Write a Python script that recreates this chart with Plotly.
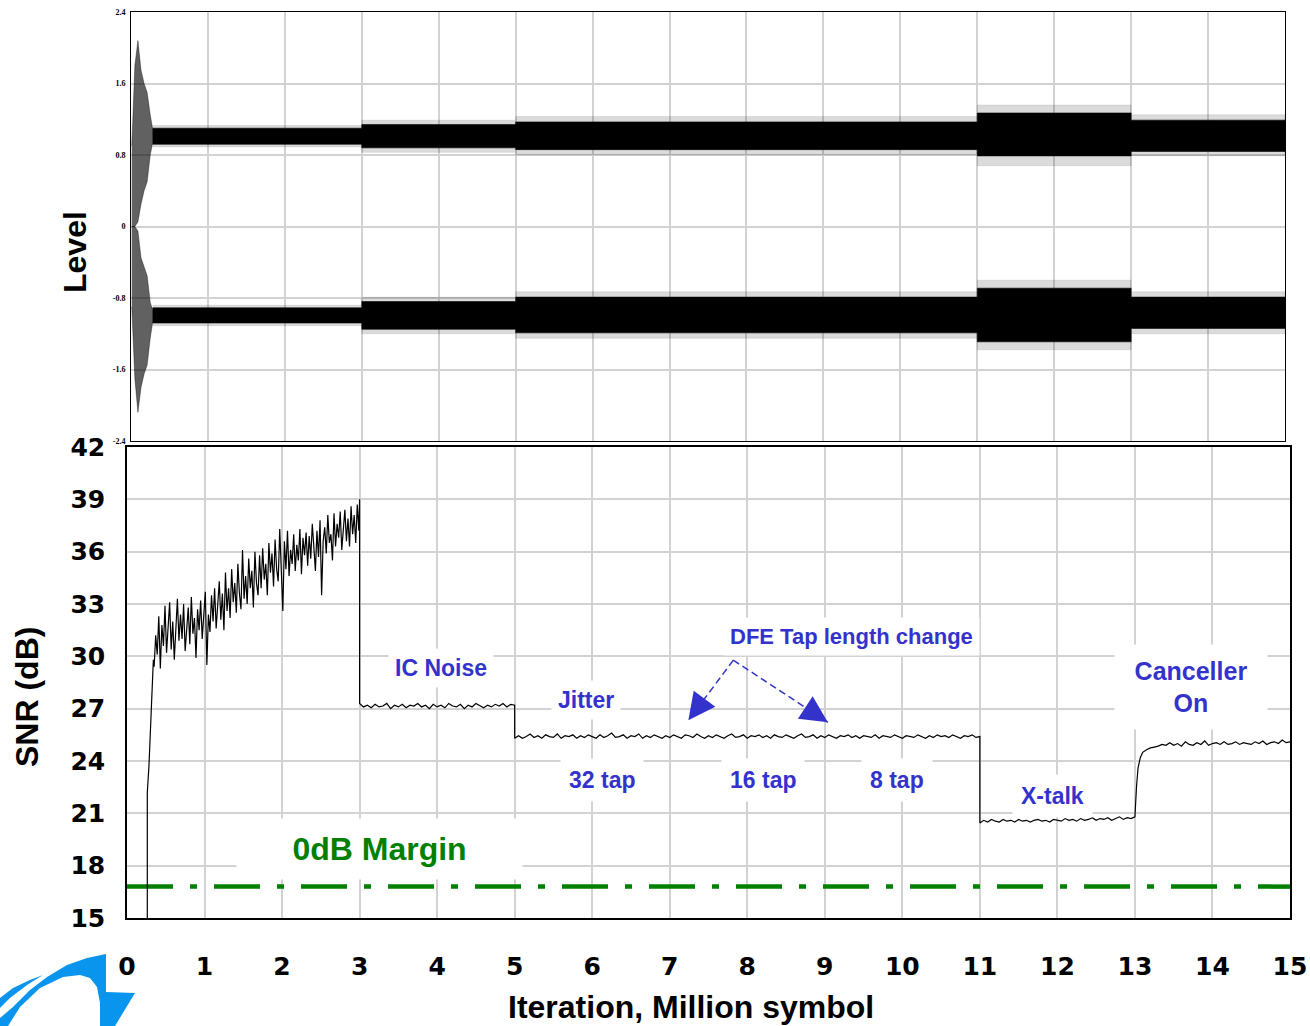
import plotly.graph_objects as go

W, H = 1310, 1026

# ---------------- DATA ----------------
# Top panel (Level): envelopes of the two decision-level clusters
burst_x = [0.01, 0.05, 0.09, 0.13, 0.17, 0.21, 0.25, 0.28]
burst_up_hi = [0.9, 1.8, 2.08, 1.75, 1.6, 1.5, 1.25, 1.1]
burst_up_lo = [0.0, 0.0, 0.05, 0.25, 0.4, 0.5, 0.8, 0.93]
burst_dn_hi = [0.0, 0.0, -0.05, -0.35, -0.45, -0.55, -0.85, -0.93]
burst_dn_lo = [-0.9, -1.7, -2.08, -1.8, -1.65, -1.55, -1.25, -1.08]

band_x = [0.28, 3.0, 3.0, 5.0, 5.0, 11.0, 11.0, 13.0, 13.0, 15.0]
up_hi = [1.1, 1.1, 1.14, 1.14, 1.17, 1.17, 1.27, 1.27, 1.19, 1.19]
up_lo = [0.92, 0.92, 0.88, 0.88, 0.86, 0.86, 0.79, 0.79, 0.84, 0.84]
dn_hi = [-0.91, -0.91, -0.84, -0.84, -0.79, -0.79, -0.69, -0.69, -0.79, -0.79]
dn_lo = [-1.08, -1.08, -1.15, -1.15, -1.19, -1.19, -1.29, -1.29, -1.14, -1.14]
# sparse outliers around each cluster
up_out_hi = [1.13, 1.13, 1.19, 1.19, 1.23, 1.23, 1.36, 1.36, 1.25, 1.25]
up_out_lo = [0.89, 0.89, 0.83, 0.83, 0.8, 0.8, 0.68, 0.68, 0.79, 0.79]
dn_out_hi = [-0.88, -0.88, -0.79, -0.79, -0.73, -0.73, -0.6, -0.6, -0.73, -0.73]
dn_out_lo = [-1.11, -1.11, -1.2, -1.2, -1.25, -1.25, -1.38, -1.38, -1.2, -1.2]

# Bottom panel (SNR, dB)
snr_x_start = [0.262, 0.262, 0.283, 0.305, 0.318, 0.34]
snr_y_start = [15.0, 22.2, 23.7, 26.5, 27.9, 29.8]

snr_x_train = [0.35, 0.37, 0.39, 0.41, 0.43, 0.45, 0.47, 0.49, 0.51, 0.53,
               0.55, 0.57, 0.59, 0.61, 0.63, 0.65, 0.67, 0.69, 0.71, 0.73,
               0.75, 0.77, 0.79, 0.81, 0.83, 0.85, 0.87, 0.89, 0.91, 0.93,
               0.95, 0.97, 0.99, 1.01, 1.03, 1.05, 1.07, 1.09, 1.11, 1.13,
               1.15, 1.17, 1.19, 1.21, 1.23, 1.25, 1.27, 1.29, 1.31, 1.33,
               1.35, 1.37, 1.39, 1.41, 1.43, 1.45, 1.47, 1.49, 1.51, 1.53,
               1.55, 1.57, 1.59, 1.61, 1.63, 1.65, 1.67, 1.69, 1.71, 1.73,
               1.75, 1.77, 1.79, 1.81, 1.83, 1.85, 1.87, 1.89, 1.91, 1.93,
               1.95, 1.97, 1.99, 2.01, 2.03, 2.05, 2.07, 2.09, 2.11, 2.13,
               2.15, 2.17, 2.19, 2.21, 2.23, 2.25, 2.27, 2.29, 2.31, 2.33,
               2.35, 2.37, 2.39, 2.41, 2.43, 2.45, 2.47, 2.49, 2.51, 2.53,
               2.55, 2.57, 2.59, 2.61, 2.63, 2.65, 2.67, 2.69, 2.71, 2.73,
               2.75, 2.77, 2.79, 2.81, 2.83, 2.85, 2.87, 2.89, 2.91, 2.93,
               2.95, 2.97, 2.99, 3.0]
snr_y_train = [29.4, 31.2, 30.1, 32.3, 29.3, 31.8, 30.6, 32.9, 30.2, 31.5,
               33.1, 30.4, 32.0, 29.8, 31.6, 33.3, 30.9, 32.4, 31.0, 33.0,
               30.3, 31.9, 32.8, 30.7, 33.4, 31.3, 32.2, 29.9, 32.7, 31.5,
               33.2, 31.0, 32.6, 33.7, 29.5, 32.4, 31.4, 33.5, 32.0, 33.9,
               31.6, 33.0, 34.3, 32.1, 33.6, 31.5, 34.8, 32.6, 33.9, 32.2,
               35.0, 33.1, 34.2, 32.5, 35.3, 33.6, 32.7, 36.1, 33.3, 34.6,
               33.0, 35.6, 33.9, 34.9, 32.8, 36.0, 34.2, 33.5, 35.8, 33.9,
               36.2, 34.4, 35.3, 33.5, 36.5, 34.8, 35.9, 34.0, 36.7, 35.0,
               34.3, 37.3, 35.4, 32.6, 36.6, 35.0, 37.2, 34.6, 36.1, 35.3,
               37.0, 34.9, 36.4, 35.5, 37.3, 34.7, 36.8, 35.8, 37.1, 35.2,
               36.9, 35.6, 37.6, 36.0, 34.9, 37.2, 35.7, 37.8, 33.5, 36.6,
               37.4, 35.9, 38.1, 36.5, 37.0, 35.5, 38.2, 36.3, 37.6, 36.8,
               38.3, 36.1, 37.5, 38.4, 36.6, 37.9, 36.3, 38.6, 37.0, 38.1,
               36.5, 38.7, 37.2, 39.0]

snr_x_ic = [3.0, 3.05, 3.1, 3.15, 3.2, 3.25, 3.3, 3.35, 3.4, 3.45,
            3.5, 3.55, 3.6, 3.65, 3.7, 3.75, 3.8, 3.85, 3.9, 3.95,
            4.0, 4.05, 4.1, 4.15, 4.2, 4.25, 4.3, 4.35, 4.4, 4.45,
            4.5, 4.55, 4.6, 4.65, 4.7, 4.75, 4.8, 4.85, 4.9, 4.95, 5.0]
snr_y_ic = [27.3, 27.1, 27.2, 27.05, 27.25, 27.1, 27.15, 27.3, 27.0, 27.2,
            27.1, 27.25, 27.05, 27.2, 27.15, 27.3, 27.1, 27.2, 27.0, 27.25,
            27.1, 27.2, 27.05, 27.3, 27.15, 27.1, 27.25, 27.0, 27.2, 27.1,
            27.3, 27.15, 27.05, 27.2, 27.1, 27.25, 27.15, 27.3, 27.1, 27.25, 27.2]

snr_x_jit = [5.0, 5.05, 5.1, 5.15, 5.2, 5.25, 5.3, 5.35, 5.4, 5.45,
             5.5, 5.55, 5.6, 5.65, 5.7, 5.75, 5.8, 5.85, 5.9, 5.95,
             6.0, 6.05, 6.1, 6.15, 6.2, 6.25, 6.3, 6.35, 6.4, 6.45,
             6.5, 6.55, 6.6, 6.65, 6.7, 6.75, 6.8, 6.85, 6.9, 6.95,
             7.0, 7.05, 7.1, 7.15, 7.2, 7.25, 7.3, 7.35, 7.4, 7.45,
             7.5, 7.55, 7.6, 7.65, 7.7, 7.75, 7.8, 7.85, 7.9, 7.95,
             8.0, 8.05, 8.1, 8.15, 8.2, 8.25, 8.3, 8.35, 8.4, 8.45,
             8.5, 8.55, 8.6, 8.65, 8.7, 8.75, 8.8, 8.85, 8.9, 8.95,
             9.0, 9.05, 9.1, 9.15, 9.2, 9.25, 9.3, 9.35, 9.4, 9.45,
             9.5, 9.55, 9.6, 9.65, 9.7, 9.75, 9.8, 9.85, 9.9, 9.95,
             10.0, 10.05, 10.1, 10.15, 10.2, 10.25, 10.3, 10.35, 10.4, 10.45,
             10.5, 10.55, 10.6, 10.65, 10.7, 10.75, 10.8, 10.85, 10.9, 10.95, 11.0]
snr_y_jit = [25.3, 25.45, 25.3, 25.4, 25.55, 25.35, 25.45, 25.3, 25.5, 25.4,
             25.35, 25.55, 25.3, 25.45, 25.4, 25.5, 25.3, 25.45, 25.35, 25.5,
             25.4, 25.3, 25.5, 25.35, 25.45, 25.6, 25.35, 25.4, 25.5, 25.3,
             25.45, 25.4, 25.55, 25.3, 25.45, 25.35, 25.5, 25.4, 25.3, 25.45,
             25.35, 25.5, 25.4, 25.3, 25.5, 25.45, 25.35, 25.55, 25.4, 25.3,
             25.45, 25.35, 25.5, 25.4, 25.3, 25.45, 25.55, 25.35, 25.4, 25.5,
             25.3, 25.45, 25.4, 25.5, 25.35, 25.45, 25.3, 25.5, 25.4, 25.35,
             25.5, 25.4, 25.3, 25.45, 25.55, 25.35, 25.4, 25.5, 25.3, 25.45,
             25.35, 25.5, 25.4, 25.3, 25.45, 25.4, 25.5, 25.35, 25.45, 25.3,
             25.45, 25.4, 25.35, 25.5, 25.3, 25.45, 25.4, 25.35, 25.5, 25.4,
             25.3, 25.45, 25.4, 25.35, 25.5, 25.4, 25.3, 25.45, 25.35, 25.5,
             25.4, 25.45, 25.35, 25.5, 25.4, 25.3, 25.45, 25.4, 25.5, 25.35, 25.4]

snr_x_xt = [11.0, 11.05, 11.1, 11.15, 11.2, 11.25, 11.3, 11.35, 11.4, 11.45,
            11.5, 11.55, 11.6, 11.65, 11.7, 11.75, 11.8, 11.85, 11.9, 11.95,
            12.0, 12.05, 12.1, 12.15, 12.2, 12.25, 12.3, 12.35, 12.4, 12.45,
            12.5, 12.55, 12.6, 12.65, 12.7, 12.75, 12.8, 12.85, 12.9, 12.95, 13.0]
snr_y_xt = [20.45, 20.6, 20.5, 20.65, 20.55, 20.5, 20.65, 20.55, 20.6, 20.5,
            20.65, 20.55, 20.6, 20.5, 20.6, 20.65, 20.55, 20.6, 20.5, 20.65,
            20.6, 20.55, 20.7, 20.6, 20.65, 20.55, 20.7, 20.6, 20.65, 20.75,
            20.6, 20.7, 20.65, 20.75, 20.6, 20.7, 20.8, 20.65, 20.75, 20.7, 20.8]

snr_x_canc = [13.02, 13.04, 13.07, 13.1, 13.15, 13.2, 13.25,
              13.3, 13.35, 13.4, 13.45, 13.5, 13.55, 13.6, 13.65, 13.7, 13.75,
              13.8, 13.85, 13.9, 13.95, 14.0, 14.05, 14.1, 14.15, 14.2, 14.25,
              14.3, 14.35, 14.4, 14.45, 14.5, 14.55, 14.6, 14.65, 14.7, 14.75,
              14.8, 14.85, 14.9, 14.95, 15.0]
snr_y_canc = [22.5, 23.6, 24.2, 24.5, 24.65, 24.75, 24.8,
              24.85, 24.95, 24.9, 25.05, 24.9, 25.0, 24.85, 25.1, 24.95, 24.9,
              25.05, 24.95, 25.15, 24.9, 25.0, 25.05, 24.95, 25.1, 24.95, 25.0,
              25.1, 24.95, 25.05, 25.0, 24.95, 25.1, 25.0, 25.15, 24.95, 25.05,
              25.1, 25.0, 25.2, 25.05, 25.1]

margin_x = [0, 15]
margin_y = [16.8, 16.8]

x_ticks = list(range(0, 16))
snr_ticks = [15, 18, 21, 24, 27, 30, 33, 36, 39, 42]
level_ticks = [-2.4, -1.6, -0.8, 0, 0.8, 1.6, 2.4]
level_tick_text = ["-2.4", "-1.6", "-0.8", "0", "0.8", "1.6", "2.4"]

# ---------------- FIGURE ----------------
def px(x):
    return x / W

def py(y):
    return (H - y) / H

fig = go.Figure()

def band(xs, hi, lo, color):
    fig.add_trace(go.Scatter(
        x=xs + xs[::-1], y=hi + lo[::-1], fill="toself", fillcolor=color,
        mode="lines", line=dict(width=0.6, color=color),
        xaxis="x2", yaxis="y2", hoverinfo="skip", showlegend=False))

band(band_x, up_out_hi, up_out_lo, "rgba(0,0,0,0.14)")
band(band_x, dn_out_hi, dn_out_lo, "rgba(0,0,0,0.14)")
band(burst_x, burst_up_hi, burst_up_lo, "rgba(0,0,0,0.62)")
band(burst_x, burst_dn_hi, burst_dn_lo, "rgba(0,0,0,0.62)")
band(band_x, up_hi, up_lo, "black")
band(band_x, dn_hi, dn_lo, "black")

snr_x = snr_x_start + snr_x_train + snr_x_ic + snr_x_jit + snr_x_xt + snr_x_canc
snr_y = snr_y_start + snr_y_train + snr_y_ic + snr_y_jit + snr_y_xt + snr_y_canc

fig.add_trace(go.Scatter(x=margin_x, y=margin_y, mode="lines",
                         line=dict(color="#008000", width=4.5, dash="46px,17px,7px,17px"),
                         hoverinfo="skip", showlegend=False))
fig.add_trace(go.Scatter(x=snr_x, y=snr_y, mode="lines",
                         line=dict(color="black", width=1.2),
                         hoverinfo="skip", showlegend=False))

grid = "#d2d2d2"
tickfont_big = dict(family="DejaVu Sans", size=25, color="black", weight="bold")

fig.update_layout(
    width=W, height=H, margin=dict(l=0, r=0, t=0, b=0),
    paper_bgcolor="white", plot_bgcolor="white", showlegend=False,
    xaxis=dict(domain=[px(127), px(1290)], range=[0, 15], tickvals=x_ticks,
               showgrid=True, gridcolor=grid, gridwidth=1.5, zeroline=False,
               showline=True, linecolor="black", linewidth=1.5, mirror=True,
               ticks="outside", ticklen=25, tickcolor="rgba(0,0,0,0)",
               tickfont=tickfont_big, anchor="y", automargin=False),
    yaxis=dict(domain=[py(918), py(447)], range=[15, 42], tickvals=snr_ticks,
               showgrid=True, gridcolor=grid, gridwidth=1.5, zeroline=False,
               showline=True, linecolor="black", linewidth=1.5, mirror=True,
               ticks="outside", ticklen=15, tickcolor="rgba(0,0,0,0)",
               tickfont=tickfont_big, anchor="x", automargin=False),
    xaxis2=dict(domain=[px(131), px(1285)], range=[0, 15], tickvals=x_ticks,
                showticklabels=False, showgrid=True, gridcolor=grid, gridwidth=1.5,
                zeroline=False, showline=True, linecolor="black", linewidth=1,
                mirror=True, anchor="y2", automargin=False),
    yaxis2=dict(domain=[py(441), py(12)], range=[-2.4, 2.4], tickvals=level_ticks,
                ticktext=level_tick_text,
                showgrid=True, gridcolor=grid, gridwidth=1.5, zeroline=False,
                showline=True, linecolor="black", linewidth=1, mirror=True,
                ticks="outside", ticklen=3, tickcolor="rgba(0,0,0,0)",
                tickfont=dict(family="Liberation Serif", size=8, color="black", weight="bold"),
                anchor="x2", automargin=False),
)

blue = "#3333cc"
green = "#008000"

def note(text, x, y, size, color=blue, **kw):
    fig.add_annotation(text=text, x=x, y=y, xref="x", yref="y", showarrow=False,
                       xanchor="center", yanchor="middle",
                       font=dict(family="Liberation Sans", size=size, color=color, weight="bold"),
                       bgcolor="white", **kw)

note("0dB Margin", 3.26, 18.95, 32, color=green, width=283, height=58)
note("IC Noise", 4.05, 29.31, 23, borderpad=6)
note("Jitter", 5.92, 27.48, 23, borderpad=6)
note("DFE Tap length change", 9.34, 31.14, 22, borderpad=6)
note("32 tap", 6.13, 22.9, 23, borderpad=8)
note("16 tap", 8.2, 22.9, 23, borderpad=8)
note("8 tap", 9.93, 22.9, 23, borderpad=8)
note("X-talk", 11.94, 21.98, 23, borderpad=8)
note("Canceller<br>On", 13.72, 28.25, 25, width=150, height=82)

# dashed arrows (DFE tap length change)
arrow_tail = (7.82, 29.78)
arrow_heads = [(7.24, 26.33), (9.04, 26.22)]
for hx, hy in arrow_heads:
    fig.add_shape(type="line", xref="x", yref="y", x0=arrow_tail[0], y0=arrow_tail[1],
                  x1=hx, y1=hy, line=dict(color=blue, width=1.5, dash="7px,4px"))
fig.add_annotation(x=7.24, y=26.33, xref="x", yref="y", ax=9, ay=-12, showarrow=True,
                   arrowhead=2, arrowsize=3.6, arrowwidth=1.5, arrowcolor=blue, text="")
fig.add_annotation(x=9.04, y=26.22, xref="x", yref="y", ax=-12.6, ay=-8.2, showarrow=True,
                   arrowhead=2, arrowsize=3.6, arrowwidth=1.5, arrowcolor=blue, text="")

# axis titles
title_font = dict(family="Liberation Sans", size=32, color="black", weight="bold")
for text, tx, ty, ang in [("Level", 75, 252, -90), ("SNR (dB)", 27, 697, -90),
                          ("Iteration, Million symbol", 691, 1007, 0)]:
    fig.add_annotation(text=text, x=px(tx), y=py(ty), xref="paper", yref="paper",
                       xanchor="center", yanchor="middle",
                       showarrow=False, textangle=ang, font=title_font)

# logo swoosh
def path(points):
    return "M " + " L ".join(f"{px(a):.5f},{py(b):.5f}" for a, b in points) + " Z"

main_swoosh = [(106, 954), (87, 958), (67, 965), (47, 977), (30, 990), (13, 1007), (0, 1018),
               (0, 1026), (8, 1026), (20, 1007), (40, 988), (63, 977), (80, 975), (90, 978),
               (97, 987), (100, 1003), (100, 1026), (115, 1026), (135, 993), (106, 992)]
thin_swoosh = [(0, 998), (13, 988), (30, 980), (43, 975), (27, 985), (10, 998), (0, 1008)]
for pts in (main_swoosh, thin_swoosh):
    fig.add_shape(type="path", xref="paper", yref="paper", path=path(pts),
                  fillcolor="#0994ee", line=dict(width=0), layer="above")

fig.write_html("out.html", config={"displayModeBar": False},
               post_script="document.body.style.margin='0';document.body.style.overflow='hidden';")
